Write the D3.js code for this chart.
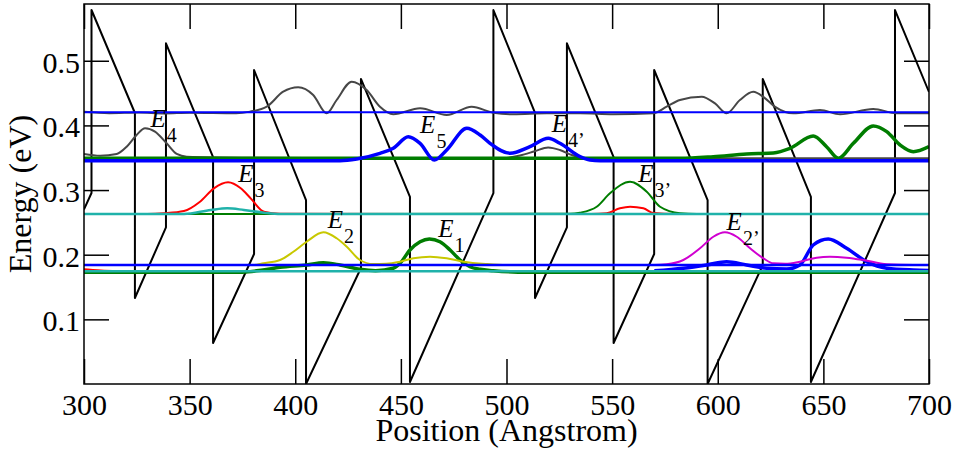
<!DOCTYPE html>
<html>
<head>
<meta charset="utf-8">
<script src="https://cdn.jsdelivr.net/npm/d3@7"></script>
<style>
html,body{margin:0;padding:0;background:#fff;}
svg{display:block;background:#fff;}
</style>
</head>
<body>
<svg id="chart" width="956" height="454"></svg>
<script>
// ---- axis settings ----
const xDomain = [300, 700];
const yDomain = [0, 0.5878];
const xTicks = [300, 350, 400, 450, 500, 550, 600, 650, 700];
const yTicks = [0.1, 0.2, 0.3, 0.4, 0.5];
const xTitle = "Position (Angstrom)";
const yTitle = "Energy (eV)";

// ---- conduction band profile [position (A), energy (eV)] ----
const potential = [
  [300, 0.270], [303.55, 0.2954], [303.55, 0.5785], [324.1, 0.4192], [324.1, 0.1330],
  [338.8, 0.2424], [338.8, 0.5270], [361.1, 0.3511], [361.1, 0.0634], [380.5, 0.2011],
  [380.5, 0.4857], [405.1, 0.2846], [405.1, 0.0], [431.1, 0.1794], [431.1, 0.4718],
  [454.3, 0.2893], [454.3, 0.0031], [493.8, 0.2954], [493.8, 0.5785], [513.5, 0.4192],
  [513.5, 0.1330], [528.6, 0.2424], [528.6, 0.5270], [550.7, 0.3511], [550.7, 0.0634],
  [569.9, 0.2011], [569.9, 0.4857], [595.2, 0.2846], [595.2, 0.0], [621.3, 0.1840],
  [621.3, 0.4718], [644.1, 0.2893], [644.1, 0.0031], [683.9, 0.2954], [683.9, 0.5785],
  [700, 0.4517]
];

// ---- squared wavefunctions offset by their energies ----
const grayUpper = [
  [300, 0.4210], [312, 0.4190], [326, 0.4200], [338, 0.4185], [350, 0.4195], [372, 0.4187],
  [378.6, 0.4213], [386.5, 0.4289], [394.3, 0.4521], [401.4, 0.4589], [408.5, 0.4470],
  [414.9, 0.4187], [419.6, 0.4393], [426.7, 0.4676], [433.8, 0.4548], [440.1, 0.4289],
  [446.4, 0.4172], [459.1, 0.4265], [471.7, 0.4161], [483.5, 0.4289], [493.7, 0.4197],
  [503.2, 0.4172], [519.0, 0.4187], [534.8, 0.4187], [550.6, 0.4172], [569.5, 0.4187],
  [575.8, 0.4289], [582.1, 0.4393], [592.4, 0.4444], [598.7, 0.4340], [604.2, 0.4187],
  [610.5, 0.4393], [616.8, 0.4521], [622.0, 0.4430], [627.0, 0.4290], [635.8, 0.4187],
  [648.4, 0.4238], [657.9, 0.4172], [673.6, 0.4254], [684.7, 0.4187], [700, 0.4187]
];
const blueUpperLevel = [[300, 0.4203], [700, 0.4203]];

const grayE4 = [
  [300, 0.3558], [307.6, 0.3531], [315.5, 0.3558], [320.2, 0.3671], [324.9, 0.3852],
  [328.9, 0.3955], [333.6, 0.3903], [339.1, 0.3723], [343.9, 0.3558], [348.6, 0.3516],
  [380, 0.3500], [450, 0.3491], [497, 0.3491], [506.4, 0.3535], [513.4, 0.3600],
  [519.7, 0.3660], [525.3, 0.3620], [530.9, 0.3542], [538, 0.3491], [700, 0.3491]
];
const greenE5p = [
  [300, 0.3491], [582.1, 0.3491], [597.9, 0.3516], [613.7, 0.3558], [626.3, 0.3575],
  [634.2, 0.3646], [645.2, 0.3836], [651.5, 0.3671], [657.1, 0.3491], [664.2, 0.3723],
  [673.6, 0.3991], [680, 0.3903], [686.3, 0.3697], [692.6, 0.3593], [700, 0.3671]
];
const blueE5 = [
  [300, 0.3454], [421.2, 0.3454], [429.1, 0.3480], [440.1, 0.3568], [446.4, 0.3646],
  [453.5, 0.3825], [459.1, 0.3723], [465.8, 0.3465], [471.7, 0.3620], [481.2, 0.3955],
  [487.5, 0.3852], [492.2, 0.3723], [501.7, 0.3568], [511.1, 0.3671], [519.8, 0.3800],
  [525.3, 0.3723], [534.8, 0.3516], [539.5, 0.3465], [544.3, 0.3454], [700, 0.3454]
];

const redE3 = [
  [300, 0.2630], [330, 0.2630], [337.9, 0.2641], [347.3, 0.2676], [354.9, 0.2820],
  [361.5, 0.3027], [368.2, 0.3120], [374.2, 0.3027], [378.9, 0.2872], [385.2, 0.2665],
  [392.8, 0.2635], [540, 0.2630], [547.4, 0.2641], [553.7, 0.2718], [558.5, 0.2742],
  [564.8, 0.2718], [569.5, 0.2645], [580, 0.2630], [700, 0.2630]
];
const greenE3p = [
  [300, 0.2630], [530, 0.2632], [534.8, 0.2650], [542.7, 0.2742], [549, 0.2950],
  [558.5, 0.3129], [566.4, 0.2975], [572.7, 0.2742], [582.1, 0.2641], [590, 0.2630],
  [700, 0.2630]
];
const tealE3 = [
  [300, 0.2630], [347.3, 0.2630], [360, 0.2692], [367.8, 0.2718], [375.7, 0.2692],
  [385.2, 0.2650], [393, 0.2630], [700, 0.2630]
];

const blueE1p = [
  [570, 0.1750], [583.7, 0.1790], [594.8, 0.1841], [604.2, 0.1892], [613.7, 0.1841],
  [623.2, 0.1790], [632.6, 0.1779], [638.9, 0.1841], [645.2, 0.2150], [652.3, 0.2243],
  [661, 0.2099], [670.5, 0.1892], [680, 0.1790], [692.6, 0.1763], [700, 0.1756]
];
const greenE1 = [
  [300, 0.1728], [375, 0.1730], [384.7, 0.1763], [392.8, 0.1805], [405.4, 0.1841],
  [413.3, 0.1876], [421.2, 0.1841], [430.6, 0.1774], [438, 0.1753], [446.4, 0.1790],
  [449.6, 0.1867], [454.3, 0.2073], [459.1, 0.2201], [463.5, 0.2243], [468.5, 0.2201],
  [473.3, 0.2073], [478, 0.1918], [482.7, 0.1814], [487.5, 0.1774], [493.7, 0.1753],
  [510, 0.1728], [700, 0.1728]
];
const redLowerTail = [[300, 0.1775], [303, 0.1768], [308, 0.1757], [316, 0.1747]];
const tealLower = [[300, 0.1745], [700, 0.1745]];
const yellowE2 = [
  [300, 0.1841], [380, 0.1841], [384.9, 0.1867], [392.8, 0.1918], [399.1, 0.2046],
  [405.4, 0.2201], [413.3, 0.2346], [419.6, 0.2254], [424.4, 0.2124], [430.6, 0.1918],
  [436.9, 0.1856], [443, 0.1860], [449.6, 0.1892], [455.9, 0.1944], [463.8, 0.1969],
  [471.7, 0.1944], [479.6, 0.1892], [490.6, 0.1856], [500, 0.1841], [700, 0.1841]
];
const magentaE2p = [
  [300, 0.1841], [570, 0.1841], [575.8, 0.1852], [583.7, 0.1918], [591.6, 0.2099],
  [597.9, 0.2278], [603.4, 0.2346], [609, 0.2278], [615.3, 0.2099], [621.6, 0.1944],
  [626.3, 0.1867], [632, 0.1860], [638.9, 0.1892], [646.8, 0.1954], [653.1, 0.1969],
  [661, 0.1954], [668.9, 0.1918], [680, 0.1852], [692.6, 0.1841], [700, 0.1841]
];
const blueLowerLevel = [[300, 0.1841], [700, 0.1841]];

// ---- state labels: name, subscript, anchor [position, energy] ----
const labelNames = ["E", "E", "E", "E", "E", "E", "E", "E"];
const labelSubs = ["4", "5", "4\u2019", "3", "3\u2019", "2", "1", "2\u2019"];
const labelPos = [
  [331.5, 0.398], [459.1, 0.3878], [521.4, 0.3903], [373.0, 0.3129],
  [562.4, 0.3129], [415.4, 0.2408], [467.7, 0.2278], [604.2, 0.2382]
];

// ---- layout ----
const W = 956, H = 454;
const plot = {left: 84, right: 929, top: 4, bottom: 384};
const serif = "'Liberation Serif','Times New Roman',Times,serif";

const svg = d3.select("#chart");
const x = d3.scaleLinear().domain(xDomain).range([plot.left, plot.right]);
const y = d3.scaleLinear().domain(yDomain).range([plot.bottom, plot.top]);

svg.append("defs").append("clipPath").attr("id", "plotclip")
  .append("rect")
  .attr("x", plot.left).attr("y", plot.top)
  .attr("width", plot.right - plot.left).attr("height", plot.bottom - plot.top);

const body = svg.append("g").attr("clip-path", "url(#plotclip)");

const straight = d3.line().x(d => x(d[0])).y(d => y(d[1]));
const smooth = d3.line().x(d => x(d[0])).y(d => y(d[1])).curve(d3.curveMonotoneX);

function draw(data, color, width, gen) {
  body.append("path")
    .datum(data)
    .attr("d", gen || smooth)
    .attr("fill", "none")
    .attr("stroke", color)
    .attr("stroke-width", width)
    .attr("stroke-linejoin", "round")
    .attr("stroke-linecap", "butt");
}

const C = {
  black: "#000000", gray: "#474747", blue: "#0000ff", green: "#007d00",
  red: "#ff0000", teal: "#20b2aa", yellow: "#c8c800", magenta: "#d000d0"
};

// band profile
draw(potential, C.black, 2, straight);

// upper states
draw(grayUpper, C.gray, 2);
draw(blueUpperLevel, C.blue, 2, straight);

// E4 / E5 manifold
draw(grayE4, C.gray, 2);
draw(greenE5p, C.green, 3.5);
draw(blueE5, C.blue, 3.5);

// E3 manifold
draw(redE3, C.red, 2);
draw(greenE3p, C.green, 2);
draw(tealE3, C.teal, 2.5);

// E1 / E2 manifold
draw(blueE1p, C.blue, 3.5);
draw(greenE1, C.green, 3.5);
draw(redLowerTail, C.red, 2);
draw(tealLower, C.teal, 2.5, straight);
draw(yellowE2, C.yellow, 2);
draw(magentaE2p, C.magenta, 2);
draw(blueLowerLevel, C.blue, 2.5, straight);

// state labels
const lab = svg.append("g");
labelPos.forEach((p, i) => {
  const t = lab.append("text")
    .attr("x", x(p[0])).attr("y", y(p[1]))
    .attr("font-family", serif)
    .attr("font-size", 25)
    .attr("font-style", "italic")
    .text(labelNames[i]);
  t.append("tspan")
    .attr("font-style", "normal")
    .attr("font-size", 20)
    .attr("dx", 1)
    .attr("dy", 15)
    .text(labelSubs[i]);
});

// axes with inward ticks
function styleAxis(g) {
  g.select(".domain").remove();
  g.attr("font-family", serif).attr("font-size", 30);
  g.selectAll(".tick line").attr("stroke", "#000").attr("stroke-width", 1.5);
  g.selectAll(".tick text").attr("fill", "#000");
}

const gB = svg.append("g").attr("transform", `translate(0,${plot.bottom})`)
  .call(d3.axisBottom(x).tickValues(xTicks).tickSize(-25).tickSizeOuter(0).tickFormat(d3.format("d")))
  .call(styleAxis);
gB.selectAll(".tick text").attr("y", 31).attr("dy", null);

const gL = svg.append("g").attr("transform", `translate(${plot.left},0)`)
  .call(d3.axisLeft(y).tickValues(yTicks).tickSize(-25).tickSizeOuter(0).tickPadding(4).tickFormat(d3.format(".1f")))
  .call(styleAxis);
gL.selectAll(".tick text").attr("dy", "0.38em");

svg.append("g").attr("transform", `translate(0,${plot.top})`)
  .call(d3.axisTop(x).tickValues(xTicks).tickSize(-25).tickSizeOuter(0).tickFormat(""))
  .call(styleAxis);

svg.append("g").attr("transform", `translate(${plot.right},0)`)
  .call(d3.axisRight(y).tickValues(yTicks).tickSize(-25).tickSizeOuter(0).tickFormat(""))
  .call(styleAxis);

// frame
svg.append("rect")
  .attr("x", plot.left).attr("y", plot.top)
  .attr("width", plot.right - plot.left).attr("height", plot.bottom - plot.top)
  .attr("fill", "none").attr("stroke", "#000").attr("stroke-width", 1.5);

// axis titles
svg.append("text")
  .attr("x", (plot.left + plot.right) / 2).attr("y", 441)
  .attr("text-anchor", "middle")
  .attr("font-family", serif).attr("font-size", 32)
  .text(xTitle);

svg.append("text")
  .attr("transform", `translate(31,${(plot.top + plot.bottom) / 2}) rotate(-90)`)
  .attr("text-anchor", "middle")
  .attr("font-family", serif).attr("font-size", 32)
  .text(yTitle);
</script>
</body>
</html>
